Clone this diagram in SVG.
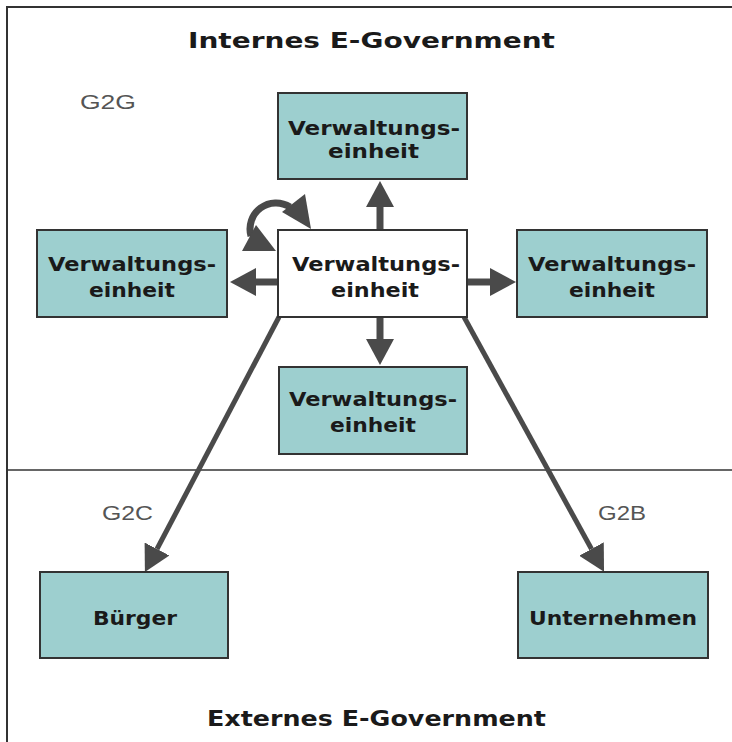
<svg xmlns="http://www.w3.org/2000/svg" width="732" height="742" viewBox="0 0 732 742">
  <style>
    .frame { stroke: #333; stroke-width: 2; fill: none; }
    .divider { stroke: #333; stroke-width: 1.5; fill: none; }
    .unit { fill: #9dcfcf; stroke: #333; stroke-width: 2; }
    .unit-main { fill: #ffffff; stroke: #333; stroke-width: 2; }
    .lbl { font-family: "DejaVu Sans", Verdana, sans-serif; font-weight: bold; font-size: 20px; fill: #1a1a1a; text-anchor: middle; }
    .title { font-family: "DejaVu Sans", Verdana, sans-serif; font-weight: bold; font-size: 22px; fill: #1a1a1a; text-anchor: middle; }
    .rel { font-family: "Liberation Sans", Arial, sans-serif; font-size: 21px; fill: #555; text-anchor: middle; }
    .arrow { stroke: #4a4a4a; stroke-width: 7; fill: none; }
    .diag { stroke: #4a4a4a; stroke-width: 5; fill: none; }
    .headfill { fill: #4a4a4a; }
  </style>
  <defs>
    <marker id="head" viewBox="0 0 26 28" markerWidth="26" markerHeight="28" refX="0" refY="14" orient="auto" markerUnits="userSpaceOnUse">
      <path d="M0,0 L26,14 L0,28 Z" fill="#4a4a4a"/>
    </marker>
  </defs>

  <!-- frame and zone divider -->
  <g id="frame">
    <polyline class="frame" points="7,742 7,7 732,7"/>
    <line class="divider" x1="7" y1="470" x2="732" y2="470"/>
  </g>

  <!-- zone titles and relation labels -->
  <g id="labels">
    <text class="title" x="371.5" y="48" textLength="367" lengthAdjust="spacingAndGlyphs">Internes E-Government</text>
    <text class="title" x="376.5" y="726" textLength="339" lengthAdjust="spacingAndGlyphs">Externes E-Government</text>
    <text class="rel" x="108" y="109" textLength="56" lengthAdjust="spacingAndGlyphs">G2G</text>
    <text class="rel" x="127.5" y="520" textLength="51" lengthAdjust="spacingAndGlyphs">G2C</text>
    <text class="rel" x="622" y="520" textLength="48" lengthAdjust="spacingAndGlyphs">G2B</text>
  </g>

  <!-- connectors -->
  <g id="connectors">
    <line class="arrow" x1="380" y1="230" x2="380" y2="207" marker-end="url(#head)"/>
    <line class="arrow" x1="380" y1="317" x2="380" y2="339" marker-end="url(#head)"/>
    <line class="arrow" x1="278" y1="282" x2="256" y2="282" marker-end="url(#head)"/>
    <line class="arrow" x1="467" y1="282" x2="490" y2="282" marker-end="url(#head)"/>
    <line class="diag" x1="279" y1="317" x2="157" y2="549" marker-end="url(#head)"/>
    <line class="diag" x1="464" y1="317" x2="591.5" y2="549" marker-end="url(#head)"/>
    <!-- self-referencing loop on the central unit -->
    <path class="arrow" d="M251,236 A26,26 0 0 1 290,207"/>
    <polygon class="headfill" points="282,212 305,194 311,229"/>
    <polygon class="headfill" points="256,225 242,251 276,251"/>
  </g>

  <!-- nodes -->
  <g id="unit-top">
    <rect class="unit" x="278" y="93" width="189" height="86"/>
    <text class="lbl" x="374" y="135" textLength="172" lengthAdjust="spacingAndGlyphs">Verwaltungs-</text>
    <text class="lbl" x="373.5" y="158" textLength="91" lengthAdjust="spacingAndGlyphs">einheit</text>
  </g>
  <g id="unit-center">
    <rect class="unit-main" x="278" y="230" width="189" height="87"/>
    <text class="lbl" x="376" y="271" textLength="168" lengthAdjust="spacingAndGlyphs">Verwaltungs-</text>
    <text class="lbl" x="375" y="297" textLength="88" lengthAdjust="spacingAndGlyphs">einheit</text>
  </g>
  <g id="unit-left">
    <rect class="unit" x="37" y="230" width="190" height="87"/>
    <text class="lbl" x="132" y="271" textLength="168" lengthAdjust="spacingAndGlyphs">Verwaltungs-</text>
    <text class="lbl" x="132" y="297" textLength="86" lengthAdjust="spacingAndGlyphs">einheit</text>
  </g>
  <g id="unit-right">
    <rect class="unit" x="517" y="230" width="190" height="87"/>
    <text class="lbl" x="612" y="271" textLength="168" lengthAdjust="spacingAndGlyphs">Verwaltungs-</text>
    <text class="lbl" x="612" y="297" textLength="86" lengthAdjust="spacingAndGlyphs">einheit</text>
  </g>
  <g id="unit-bottom">
    <rect class="unit" x="279" y="367" width="188" height="87"/>
    <text class="lbl" x="373" y="406" textLength="168" lengthAdjust="spacingAndGlyphs">Verwaltungs-</text>
    <text class="lbl" x="373" y="432" textLength="86" lengthAdjust="spacingAndGlyphs">einheit</text>
  </g>
  <g id="buerger">
    <rect class="unit" x="40" y="572" width="188" height="86"/>
    <text class="lbl" x="135" y="625" textLength="84" lengthAdjust="spacingAndGlyphs">Bürger</text>
  </g>
  <g id="unternehmen">
    <rect class="unit" x="518" y="572" width="190" height="86"/>
    <text class="lbl" x="613" y="625" textLength="168" lengthAdjust="spacingAndGlyphs">Unternehmen</text>
  </g>
</svg>
